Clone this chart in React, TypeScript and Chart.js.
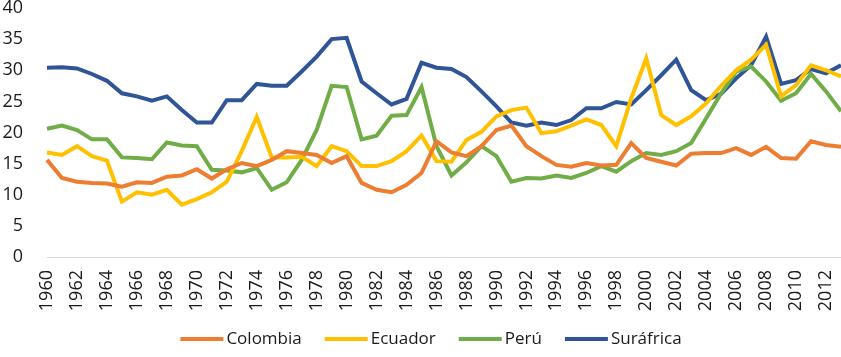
import React, { useEffect, useRef } from "react";
import { Chart, registerables } from "chart.js";

Chart.register(...registerables);

const years = [
  "1960", "1961", "1962", "1963", "1964", "1965", "1966", "1967", "1968", "1969",
  "1970", "1971", "1972", "1973", "1974", "1975", "1976", "1977", "1978", "1979",
  "1980", "1981", "1982", "1983", "1984", "1985", "1986", "1987", "1988", "1989",
  "1990", "1991", "1992", "1993", "1994", "1995", "1996", "1997", "1998", "1999",
  "2000", "2001", "2002", "2003", "2004", "2005", "2006", "2007", "2008", "2009",
  "2010", "2011", "2012", "2013",
];

const colombia = [
  15.6, 12.7, 12.1, 11.9, 11.8, 11.3, 12.0, 11.9, 12.9, 13.1,
  14.1, 12.6, 14.1, 15.1, 14.6, 15.6, 17.0, 16.7, 16.4, 15.1,
  16.2, 11.9, 10.8, 10.4, 11.6, 13.5, 18.6, 16.8, 16.2, 17.8,
  20.4, 21.1, 17.8, 16.2, 14.8, 14.5, 15.1, 14.7, 14.8, 18.3,
  15.9, 15.3, 14.7, 16.6, 16.7, 16.7, 17.5, 16.4, 17.7, 15.9,
  15.8, 18.6, 18.0, 17.7,
];

const ecuador = [
  16.8, 16.4, 17.8, 16.2, 15.5, 8.9, 10.4, 10.0, 10.8, 8.4,
  9.3, 10.4, 12.1, 17.0, 22.5, 16.0, 16.0, 16.1, 14.6, 17.8,
  17.0, 14.6, 14.6, 15.4, 17.0, 19.5, 15.4, 15.3, 18.8, 20.1,
  22.6, 23.6, 24.0, 19.9, 20.2, 21.1, 22.1, 21.2, 17.8, 25.5,
  31.9, 22.8, 21.2, 22.6, 24.7, 27.5, 30.0, 31.7, 34.1, 25.8,
  27.6, 30.8, 30.0, 29.0,
];

const peru = [
  20.6, 21.1, 20.4, 18.9, 18.9, 16.0, 15.9, 15.7, 18.4, 17.9,
  17.8, 14.0, 13.9, 13.6, 14.3, 10.8, 12.0, 15.6, 20.4, 27.5,
  27.3, 18.9, 19.5, 22.7, 22.8, 27.3, 17.8, 13.1, 15.2, 17.8,
  16.2, 12.1, 12.7, 12.6, 13.1, 12.7, 13.5, 14.6, 13.7, 15.4,
  16.7, 16.4, 17.0, 18.3, 22.3, 26.3, 29.8, 30.6, 28.2, 25.1,
  26.3, 29.4, 26.6, 23.4,
];

const surafrica = [
  30.4, 30.5, 30.3, 29.4, 28.3, 26.3, 25.8, 25.1, 25.8, 23.6,
  21.6, 21.6, 25.2, 25.2, 27.8, 27.5, 27.5, 29.8, 32.2, 35.0,
  35.2, 28.2, 26.3, 24.5, 25.4, 31.2, 30.4, 30.2, 28.9, 26.6,
  24.2, 21.6, 21.1, 21.6, 21.2, 22.0, 23.9, 23.9, 24.9, 24.5,
  26.8, 29.2, 31.7, 26.8, 25.2, 26.2, 28.7, 30.8, 35.4, 27.8,
  28.4, 30.2, 29.5, 30.8,
];

const seriesNames = ["Colombia", "Ecuador", "Perú", "Suráfrica"];
const seriesColors = ["#ED7D31", "#FFC000", "#70AD47", "#2F5597"];
const seriesData = [colombia, ecuador, peru, surafrica];

const FONT = "'Open Sans', 'DejaVu Sans', sans-serif";

const customLegend = {
  id: "customLegend",
  afterDraw(chart: any) {
    const ctx = chart.ctx;
    ctx.save();
    ctx.font = `17px ${FONT}`;
    ctx.textBaseline = "middle";
    ctx.textAlign = "left";
    const lineW = 43;
    const gap = 3;
    const itemGap = 23;
    const items = chart.data.datasets.map((ds: any) => ({
      label: ds.label,
      color: ds.borderColor,
      w: lineW + gap + ctx.measureText(ds.label).width,
    }));
    const total =
      items.reduce((s: number, it: any) => s + it.w, 0) + itemGap * (items.length - 1);
    let x = 431 - total / 2;
    const y = 339;
    for (const it of items) {
      ctx.strokeStyle = it.color;
      ctx.lineWidth = 4;
      ctx.beginPath();
      ctx.moveTo(x, y);
      ctx.lineTo(x + lineW, y);
      ctx.stroke();
      ctx.fillStyle = "#1a1a1a";
      ctx.fillText(it.label, x + lineW + gap, y);
      x += it.w + itemGap;
    }
    ctx.restore();
  },
};

export default function App() {
  const canvasRef = useRef<HTMLCanvasElement | null>(null);

  useEffect(() => {
    if (!canvasRef.current) return;
    const chart = new Chart(canvasRef.current, {
      type: "line",
      data: {
        labels: years,
        datasets: seriesNames.map((name, i) => ({
          label: name,
          data: seriesData[i],
          borderColor: seriesColors[i],
          backgroundColor: seriesColors[i],
          borderWidth: 4,
          pointRadius: 0,
          pointHoverRadius: 0,
          tension: 0,
          fill: false,
        })),
      },
      options: {
        animation: false,
        responsive: true,
        maintainAspectRatio: false,
        layout: { padding: { top: 8, right: 0, left: 0, bottom: 30 } },
        plugins: {
          legend: { display: false },
          tooltip: { enabled: false },
        },
        scales: {
          x: {
            type: "category",
            offset: false,
            grid: { display: false, drawTicks: false },
            border: { display: true, color: "#d9d9d9", width: 1 },
            ticks: {
              autoSkip: false,
              maxRotation: 90,
              minRotation: 90,
              padding: 13,
              color: "#1a1a1a",
              font: { family: FONT, size: 18 },
              callback: (_v: any, idx: number) => (idx % 2 === 0 ? years[idx] : ""),
            },
            afterFit: (scale: any) => {
              scale.height = 70;
              scale.paddingRight = 0;
              scale.paddingLeft = 0;
            },
          },
          y: {
            min: 0,
            max: 40,
            grid: { display: false, drawTicks: false },
            border: { display: false },
            ticks: {
              stepSize: 5,
              padding: 24,
              color: "#1a1a1a",
              font: { family: FONT, size: 18 },
            },
            afterFit: (scale: any) => {
              scale.width = 47;
              scale.paddingTop = 0;
              scale.paddingBottom = 0;
            },
          },
        },
      } as any,
      plugins: [customLegend],
    });
    return () => chart.destroy();
  }, []);

  return (
    <div style={{ position: "fixed", left: 0, top: 0, width: 841, height: 357, background: "#fff" }}>
      <canvas ref={canvasRef} />
    </div>
  );
}
